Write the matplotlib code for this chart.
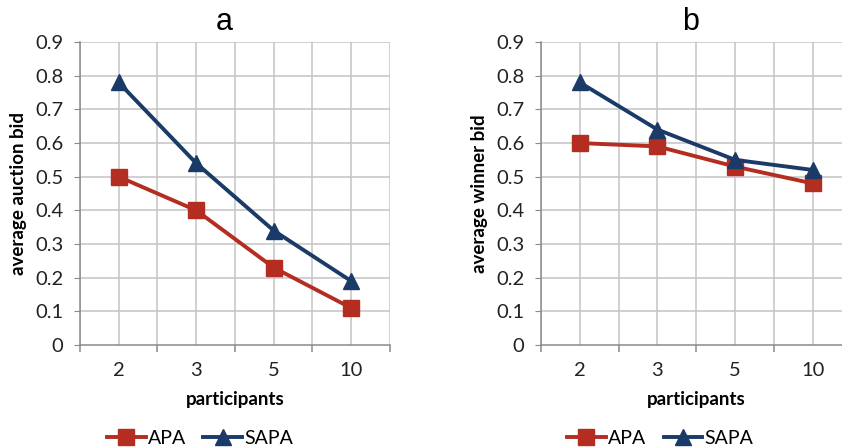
import numpy as np
import matplotlib
matplotlib.use("Agg")
import matplotlib.pyplot as plt
from matplotlib.lines import Line2D

# данные с графика
participants = ["2", "3", "5", "10"]
apa_a = [0.50, 0.40, 0.23, 0.11]
sapa_a = [0.78, 0.54, 0.34, 0.19]
apa_b = [0.60, 0.59, 0.53, 0.48]
sapa_b = [0.78, 0.64, 0.55, 0.52]
y_ticks = [0, 0.1, 0.2, 0.3, 0.4, 0.5, 0.6, 0.7, 0.8, 0.9]
y_tick_labels = ["0", "0.1", "0.2", "0.3", "0.4", "0.5", "0.6", "0.7", "0.8", "0.9"]

red = "#B42D21"
blue = "#1A3A67"
grid_col = "#C4C4C4"
axis_col = "#8A8A8A"

plt.rcParams["font.family"] = ["Lato", "DejaVu Sans"]

fig = plt.figure(figsize=(8.42, 4.48), dpi=100)


def draw_panel(rect, apa, sapa, title, ylabel, title_x, legend_x):
    ax = fig.add_axes(rect)
    x = np.arange(len(participants))
    ax.set_xlim(-0.5, len(participants) - 0.5)
    ax.set_ylim(0, 0.9)

    # сетка
    for gx in np.arange(-0.5, len(participants), 0.5):
        ax.axvline(gx, color=grid_col, lw=1.1, zorder=0)
    for gy in y_ticks[1:]:
        ax.axhline(gy, color=grid_col, lw=1.1, zorder=0)

    ax.plot(x, apa, color=red, lw=2.8, marker="s", markersize=11, label="APA", zorder=3)
    ax.plot(x, sapa, color=blue, lw=2.8, marker="^", markersize=11, label="SAPA", zorder=4)

    for s in ["top", "right"]:
        ax.spines[s].set_visible(False)
    for s in ["left", "bottom"]:
        ax.spines[s].set_color(axis_col)
        ax.spines[s].set_linewidth(1.1)

    ax.set_yticks(y_ticks)
    ax.set_yticklabels(y_tick_labels, fontsize=14.5, color="#222222")
    ax.tick_params(axis="y", length=4, color=axis_col, pad=8)
    ax.set_xticks(x)
    ax.set_xticklabels(participants, fontsize=14.5, color="#222222")
    ax.tick_params(axis="x", which="major", length=0, pad=12)
    ax.set_xticks(np.arange(-0.5, len(participants), 1.0), minor=True)
    ax.tick_params(axis="x", which="minor", length=5, color=axis_col, width=1.1)

    ax.set_xlabel("participants", fontsize=13.5, fontweight="bold", labelpad=9)
    ax.set_ylabel(ylabel, fontsize=13.5, fontweight="bold", labelpad=6)

    fig.text(title_x, 0.95, title, fontsize=22, family="Liberation Sans",
             ha="center", va="center")

    handles = [Line2D([], [], color=red, lw=2.8, marker="s", markersize=11),
               Line2D([], [], color=blue, lw=2.8, marker="^", markersize=11)]
    fig.legend(handles, ["APA", "SAPA"], loc="center", ncol=2, frameon=False,
               bbox_to_anchor=(legend_x, 0.022), fontsize=14, handlelength=2.0,
               handletextpad=0.1, columnspacing=0.9)
    return ax


draw_panel([0.095, 0.23, 0.368, 0.676], apa_a, sapa_a, "a", "average auction bid",
           224 / 842, 0.2375)
draw_panel([0.6425, 0.23, 0.369, 0.676], apa_b, sapa_b, "b", "average winner bid",
           691 / 842, 0.784)

fig.savefig("out.png", dpi=100)
